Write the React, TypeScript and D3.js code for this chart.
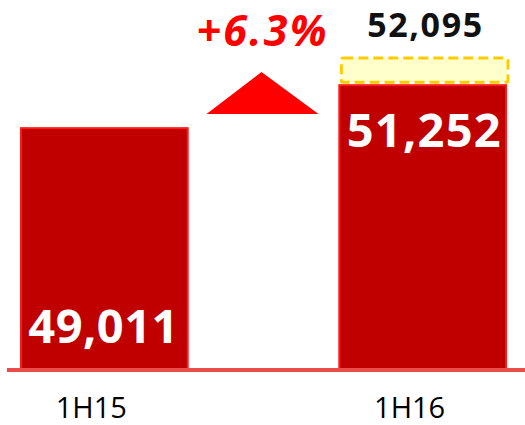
import React from "react";
import * as d3 from "d3";

const categories = ["1H15", "1H16"];
const values = [49011, 51252];
const targetValue = 52095;
const growthLabel = "+6.3%";

const W = 525;
const H = 425;
const baseY = 370;

export default function App() {
  const x = d3.scaleBand<string>().domain(categories).range([20, 507]).paddingInner(0.47);
  const y = d3.scaleLinear().domain([36350, 52095]).range([baseY, 68]);
  const fmt = d3.format(",");
  const bw = x.bandwidth();
  const x0 = x(categories[0])!;
  const x1 = x(categories[1])!;
  const gapCenter = (x0 + bw + x1) / 2;
  const triPath = d3.line()([
    [gapCenter - 57, 114],
    [gapCenter - 2, 72],
    [gapCenter + 55, 114],
  ]) + "Z";

  return (
    <svg width={W} height={H} style={{ position: "absolute", left: 0, top: 0 }}>
      {categories.map((c, i) => (
        <rect
          key={c}
          x={x(c)! + 1}
          y={y(values[i]) + 1}
          width={bw - 2}
          height={baseY - y(values[i]) - 1}
          fill="#c00000"
          stroke="#ff1a1a"
          strokeWidth={2}
        />
      ))}
      <line x1={7} x2={525} y1={baseY} y2={baseY} stroke="#ea4b4b" strokeWidth={4} />
      {/* target box */}
      <rect
        x={x1 + 3}
        y={y(targetValue) - 10}
        width={bw - 2}
        height={y(values[1]) - 2 - (y(targetValue) - 10)}
        fill="#ffffcc"
        stroke="#ffcc00"
        strokeWidth={3}
        strokeDasharray="10,5"
        rx={2}
      />
      <text
        x={x1 + bw / 2 + 2}
        y={37}
        textAnchor="middle"
        fontFamily="Open Sans"
        fontWeight="bold"
        fontSize={34}
        fill="#111"
        textLength={115}
      >
        {fmt(targetValue)}
      </text>
      <path d={triPath} fill="#ff0000" />
      <text
        x={gapCenter - 2}
        y={46}
        textAnchor="middle"
        fontFamily="Open Sans"
        fontWeight="bold"
        fontStyle="italic"
        fontSize={43}
        fill="#ff0000"
        textLength={130}
      >
        {growthLabel}
      </text>
      {/* value labels */}
      <text
        x={x0 + bw / 2 - 1}
        y={baseY - 27}
        textAnchor="middle"
        fontFamily="Open Sans"
        fontWeight="bold"
        fontSize={47}
        fill="#ffffff"
        textLength={150}
      >
        {fmt(values[0])}
      </text>
      <text
        x={x1 + bw / 2 + 1}
        y={y(values[1]) + 63}
        textAnchor="middle"
        fontFamily="Open Sans"
        fontWeight="bold"
        fontSize={47}
        fill="#ffffff"
        textLength={154}
      >
        {fmt(values[1])}
      </text>
      {categories.map((c) => (
        <text
          key={c + "l"}
          x={x(c)! + bw / 2 - 13}
          y={418}
          textAnchor="middle"
          fontFamily="Open Sans"
          fontSize={29}
          fill="#000"
        >
          {c}
        </text>
      ))}
    </svg>
  );
}
